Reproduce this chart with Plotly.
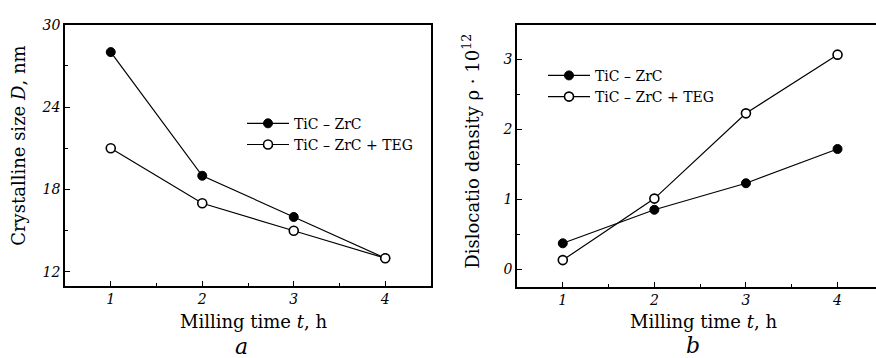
import plotly.graph_objects as go

W, H = 876, 358

# Data
time_h = [1, 2, 3, 4]
size_ticzrc = [28.0, 19.0, 16.0, 13.0]
size_teg = [21.0, 17.0, 15.0, 13.0]
disl_ticzrc = [0.37, 0.85, 1.23, 1.72]
disl_teg = [0.13, 1.01, 2.23, 3.07]
name_a = "TiC – ZrC"
name_b = "TiC – ZrC + TEG"

FONT = "DejaVu Serif, Liberation Serif, serif"

def px(x):
    return x / W

def py(y):
    return 1 - y / H

fig = go.Figure()

filled = dict(symbol="circle", size=9, color="black", line=dict(color="black", width=1))
hollow = dict(symbol="circle", size=9, color="white", line=dict(color="black", width=1.6))

fig.add_trace(go.Scatter(x=time_h, y=size_ticzrc, mode="lines+markers", name=name_a,
                         line=dict(color="black", width=1.2), marker=filled,
                         xaxis="x", yaxis="y", legend="legend"))
fig.add_trace(go.Scatter(x=time_h, y=size_teg, mode="lines+markers", name=name_b,
                         line=dict(color="black", width=1.2), marker=hollow,
                         xaxis="x", yaxis="y", legend="legend"))
fig.add_trace(go.Scatter(x=time_h, y=disl_ticzrc, mode="lines+markers", name=name_a,
                         line=dict(color="black", width=1.2), marker=filled,
                         xaxis="x2", yaxis="y2", legend="legend2"))
fig.add_trace(go.Scatter(x=time_h, y=disl_teg, mode="lines+markers", name=name_b,
                         line=dict(color="black", width=1.2), marker=hollow,
                         xaxis="x2", yaxis="y2", legend="legend2"))

tickfont = dict(family=FONT, size=14, color="black", style="italic")
common = dict(showgrid=False, zeroline=False, showline=True, linecolor="black",
              linewidth=1.5, ticks="inside", ticklen=5, tickwidth=1.2,
              tickcolor="black", tickfont=tickfont)

fig.update_layout(
    width=W, height=H,
    margin=dict(l=0, r=0, t=0, b=0),
    paper_bgcolor="white", plot_bgcolor="white",
    font=dict(family=FONT, color="black"),
    xaxis=dict(domain=[px(65), px(431)], range=[0.5, 4.5], tickvals=[1, 2, 3, 4],
               mirror=True, anchor="y",
               minor=dict(ticks="inside", ticklen=3, dtick=0.5, tick0=0.5, tickcolor="black"),
               **common),
    yaxis=dict(domain=[py(284), py(17)], range=[11, 30], tickvals=[12, 18, 24, 30],
               mirror=True, anchor="x",
               minor=dict(ticks="inside", ticklen=3, tickvals=[15, 21, 27], tickcolor="black"),
               **common),
    xaxis2=dict(domain=[px(517), 1], range=[0.5, 4.42], tickvals=[1, 2, 3, 4],
                mirror=True, anchor="y2",
                minor=dict(ticks="inside", ticklen=3, dtick=0.5, tick0=0.5, tickcolor="black"),
                **common),
    yaxis2=dict(domain=[py(285), py(17)], range=[-0.25, 3.5], tickvals=[0, 1, 2, 3],
                mirror=False, anchor="x2",
                minor=dict(ticks="inside", ticklen=3, tickvals=[0.5, 1.5, 2.5], tickcolor="black"),
                **common),
    legend=dict(x=px(242), y=py(102), xanchor="left", yanchor="top",
                font=dict(family=FONT, size=14, color="black"),
                bgcolor="rgba(0,0,0,0)", tracegroupgap=0, itemwidth=42),
    legend2=dict(x=px(543), y=py(53), xanchor="left", yanchor="top",
                 font=dict(family=FONT, size=14, color="black"),
                 bgcolor="rgba(0,0,0,0)", tracegroupgap=0, itemwidth=42),
    showlegend=True,
)

ann = [
    dict(text="Milling time <i>t</i>, h", x=px(253), y=py(321), size=18, angle=0),
    dict(text="Milling time <i>t</i>, h", x=px(703), y=py(321), size=18, angle=0),
    dict(text="Crystalline size <i>D</i>, nm", x=px(19), y=py(141), size=18, angle=-90),
    dict(text="Dislocatio density ρ · 10<sup>12</sup>", x=px(471), y=py(147), size=18, angle=-90),
    dict(text="<i>a</i>", x=px(241), y=py(346), size=22, angle=0),
    dict(text="<i>b</i>", x=px(693), y=py(345), size=22, angle=0),
]
for a in ann:
    fig.add_annotation(text=a["text"], x=a["x"], y=a["y"], xref="paper", yref="paper",
                       xanchor="center", yanchor="middle", showarrow=False,
                       textangle=a["angle"],
                       font=dict(family=FONT, size=a["size"], color="black"))

fig.write_html("out.html")
